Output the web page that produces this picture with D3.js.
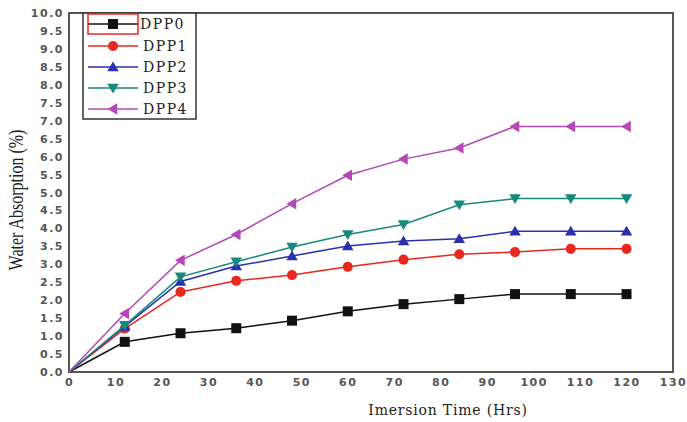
<!DOCTYPE html>
<html>
<head>
<meta charset="utf-8">
<script src="https://cdn.jsdelivr.net/npm/d3@7/dist/d3.min.js"></script>
<style>
  html, body { margin: 0; padding: 0; background: #fff; }
  svg { display: block; }
</style>
</head>
<body>
<svg id="chart" width="687" height="422"></svg>
<script>
// Immersion time (hours) at which each sample was weighed
const hours = [0, 12, 24, 36, 48, 60, 72, 84, 96, 108, 120];

// Water absorption (%) for each formulation
const dpp0 = [0, 0.84, 1.08, 1.22, 1.43, 1.69, 1.89, 2.03, 2.17, 2.17, 2.17];
const dpp1 = [0, 1.21, 2.23, 2.54, 2.70, 2.93, 3.13, 3.28, 3.34, 3.43, 3.43];
const dpp2 = [0, 1.27, 2.52, 2.95, 3.23, 3.51, 3.65, 3.71, 3.92, 3.92, 3.92];
const dpp3 = [0, 1.30, 2.65, 3.07, 3.48, 3.83, 4.11, 4.66, 4.83, 4.83, 4.83];
const dpp4 = [0, 1.63, 3.11, 3.83, 4.69, 5.48, 5.93, 6.24, 6.84, 6.84, 6.84];

const seriesNames = ["DPP0", "DPP1", "DPP2", "DPP3", "DPP4"];
const seriesValues = [dpp0, dpp1, dpp2, dpp3, dpp4];
const seriesColors = ["#111111", "#e8271e", "#2a30b0", "#17897f", "#b548b8"];
const seriesSymbols = ["square", "circle", "triUp", "triDown", "triLeft"];

const xTicks = d3.range(0, 131, 10);
const yTicks = d3.range(0, 10.01, 0.5);

const svg = d3.select("#chart");
const plot = { left: 69, right: 673, top: 13, bottom: 372 };

const x = d3.scaleLinear().domain([0, 130]).range([plot.left, plot.right]);
const y = d3.scaleLinear().domain([0, 10]).range([plot.bottom, plot.top]);

// Marker shapes
function markerPath(type, s) {
  const h = s / 2;
  switch (type) {
    case "square": return `M${-h},${-h}H${h}V${h}H${-h}Z`;
    case "circle": return d3.symbol(d3.symbolCircle, s * s * 0.8)();
    case "triUp": return `M0,${-h * 1.1}L${h * 1.15},${h * 0.85}L${-h * 1.15},${h * 0.85}Z`;
    case "triDown": return `M0,${h * 1.1}L${h * 1.15},${-h * 0.85}L${-h * 1.15},${-h * 0.85}Z`;
    case "triLeft": return `M${-h * 1.1},0L${h * 0.85},${-h * 1.15}L${h * 0.85},${h * 1.15}Z`;
  }
}
const markerSize = 10;

// Axes (no tick marks, labels only)
const tickFont = "'DejaVu Sans', Verdana, sans-serif";
const xAxis = svg.append("g")
  .attr("transform", `translate(0,${plot.bottom})`)
  .call(d3.axisBottom(x).tickValues(xTicks).tickSize(0).tickPadding(6).tickFormat(d3.format("d")));
xAxis.select(".domain").remove();
xAxis.selectAll("text")
  .attr("fill", "#555").style("font-family", tickFont).style("font-size", "11px")
  .style("letter-spacing", "1.5px").style("font-weight", "bold");

const yAxis = svg.append("g")
  .attr("transform", `translate(${plot.left},0)`)
  .call(d3.axisLeft(y).tickValues(yTicks).tickSize(0).tickPadding(5).tickFormat(d3.format(".1f")));
yAxis.select(".domain").remove();
yAxis.selectAll("text")
  .attr("fill", "#555").style("font-family", tickFont).style("font-size", "11px")
  .style("letter-spacing", "1.5px").style("font-weight", "bold");

// Plot frame
svg.append("rect")
  .attr("x", plot.left).attr("y", plot.top)
  .attr("width", plot.right - plot.left).attr("height", plot.bottom - plot.top)
  .attr("fill", "none").attr("stroke", "#555").attr("stroke-width", 2);

// Series lines and markers
const line = d3.line().x((d, i) => x(hours[i])).y(d => y(d));
seriesValues.forEach((vals, k) => {
  const g = svg.append("g");
  g.append("path").datum(vals)
    .attr("d", line)
    .attr("fill", "none").attr("stroke", seriesColors[k]).attr("stroke-width", 1.5);
  g.selectAll("path.m").data(vals.slice(1)).join("path")
    .attr("class", "m")
    .attr("transform", (d, i) => `translate(${x(hours[i + 1])},${y(d)})`)
    .attr("d", markerPath(seriesSymbols[k], markerSize))
    .attr("fill", seriesColors[k]);
});

// Legend
const legend = svg.append("g");
legend.append("rect")
  .attr("x", 83).attr("y", plot.top).attr("width", 113).attr("height", 106)
  .attr("fill", "#fff").attr("stroke", "#333").attr("stroke-width", 1.5);
const legendY = [24, 46, 67, 88, 109];
seriesNames.forEach((name, k) => {
  const ly = legendY[k];
  legend.append("line")
    .attr("x1", 88).attr("x2", 138).attr("y1", ly).attr("y2", ly)
    .attr("stroke", seriesColors[k]).attr("stroke-width", 1.5);
  legend.append("path")
    .attr("transform", `translate(113,${ly})`)
    .attr("d", markerPath(seriesSymbols[k], markerSize))
    .attr("fill", seriesColors[k]);
  legend.append("text")
    .attr("x", k === 0 ? 140 : 143).attr("y", ly + 5)
    .attr("fill", "#222")
    .style("font-family", "'DejaVu Serif', 'Times New Roman', serif")
    .style("font-size", "14px").style("letter-spacing", "1.5px")
    .text(name);
});
// Selection highlight around the first legend sample
legend.append("rect")
  .attr("x", 88).attr("y", plot.top + 1).attr("width", 50).attr("height", 20)
  .attr("fill", "none").attr("stroke", "#e8271e").attr("stroke-width", 1.5);

// Axis titles
svg.append("text")
  .attr("x", 448).attr("y", 415)
  .attr("text-anchor", "middle").attr("fill", "#222")
  .style("font-family", "'DejaVu Serif', serif").style("font-size", "14px")
  .style("letter-spacing", "0.8px")
  .text("Imersion Time (Hrs)");

// Condensed vertical title
svg.append("text")
  .attr("transform", "translate(23,200) rotate(-90) scale(0.8,1)")
  .attr("text-anchor", "middle").attr("fill", "#222")
  .style("font-family", "'Liberation Serif', 'Times New Roman', serif").style("font-size", "20px")
  .text("Water Absorption (%)");
</script>
</body>
</html>
